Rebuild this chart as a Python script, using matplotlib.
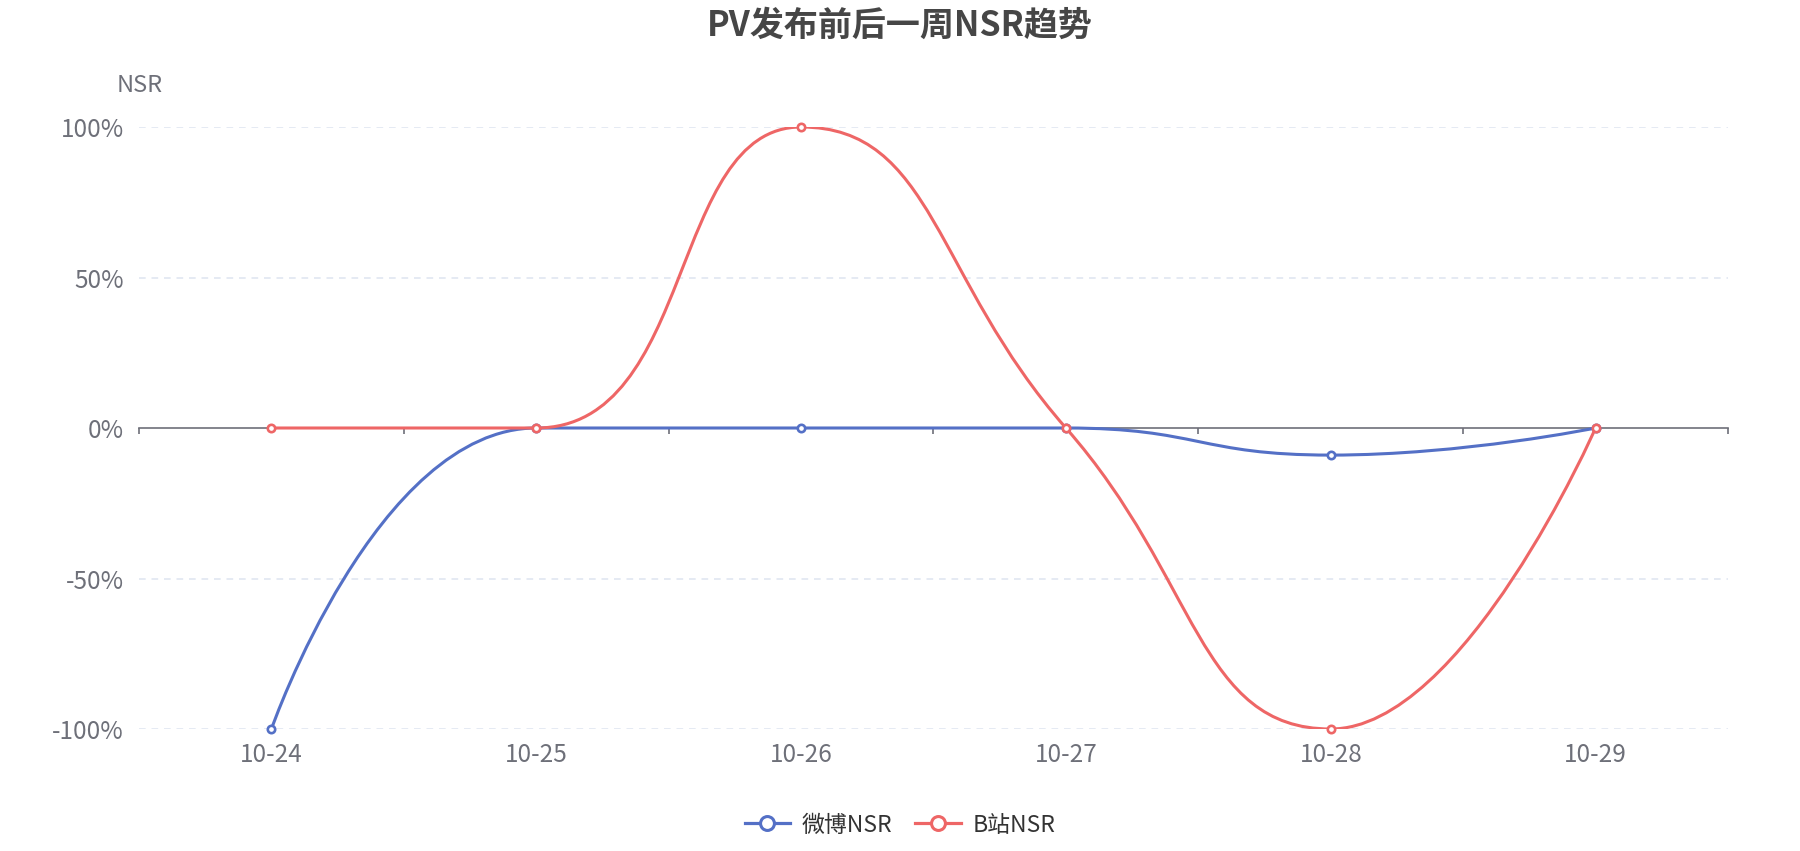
import numpy as np
import matplotlib
matplotlib.use('Agg')
import matplotlib.pyplot as plt
from matplotlib.path import Path
from matplotlib.patches import PathPatch
from matplotlib.lines import Line2D

plt.rcParams['font.family'] = ['Noto Sans CJK SC', 'DejaVu Sans']

dates = ['10-24', '10-25', '10-26', '10-27', '10-28', '10-29']
weibo_nsr = [-100, 0, 0, 0, -9, 0]
bili_nsr = [0, 0, 100, 0, -100, 0]
y_ticks = [-100, -50, 0, 50, 100]
series_names = ['微博NSR', 'B站NSR']
colors = ['#5470c6', '#ee6666']

W, H = 1800, 851
fig = plt.figure(figsize=(W / 100, H / 100), dpi=100)
L, R, T, B = 139, 1728, 127, 729
ax = fig.add_axes([L / W, 1 - B / H, (R - L) / W, (B - T) / H])
ax.set_xlim(-0.5, len(dates) - 0.5)
ax.set_ylim(-100, 100)

# pixel scale for echarts-like smoothing
sx = (R - L) / len(dates)
sy = (B - T) / 200.0


def echarts_smooth(xs, ys, smooth=0.5):
    px = [x * sx for x in xs]
    py = [y * sy for y in ys]
    n = len(px)
    verts = [(px[0], py[0])]
    codes = [Path.MOVETO]
    cpx0, cpy0 = px[0], py[0]
    for i in range(1, n):
        x, y = px[i], py[i]
        prevX, prevY = px[i - 1], py[i - 1]
        if i == n - 1:
            cpx1, cpy1 = x, y
            ncx, ncy = x, y
        else:
            nextX, nextY = px[i + 1], py[i + 1]
            vx = nextX - prevX
            vy = nextY - prevY
            lp = np.hypot(x - prevX, y - prevY)
            ln = np.hypot(nextX - x, nextY - y)
            r = ln / (ln + lp)
            ncx = x + vx * smooth * r
            ncy = y + vy * smooth * r
            ncx = min(ncx, max(nextX, x)); ncy = min(ncy, max(nextY, y))
            ncx = max(ncx, min(nextX, x)); ncy = max(ncy, min(nextY, y))
            vx = ncx - x; vy = ncy - y
            cpx1 = x - vx * lp / ln
            cpy1 = y - vy * lp / ln
            cpx1 = min(cpx1, max(prevX, x)); cpy1 = min(cpy1, max(prevY, y))
            cpx1 = max(cpx1, min(prevX, x)); cpy1 = max(cpy1, min(prevY, y))
            vx = x - cpx1; vy = y - cpy1
            ncx = x + vx * ln / lp
            ncy = y + vy * ln / lp
        verts += [(cpx0, cpy0), (cpx1, cpy1), (x, y)]
        codes += [Path.CURVE4] * 3
        cpx0, cpy0 = ncx, ncy
    v = np.array(verts) / np.array([sx, sy])
    return Path(v, codes)


grid_color = '#E0E6F1'
axis_color = '#6E7079'
for yv in y_ticks:
    if yv != 0:
        ax.axhline(yv, color=grid_color, lw=1.2, dashes=(4, 3.5), zorder=0)

xs = np.arange(len(dates))
for k, (vals, c) in enumerate(zip([weibo_nsr, bili_nsr], colors)):
    path = echarts_smooth(xs, vals)
    ax.add_patch(PathPatch(path, fill=False, edgecolor=c, lw=2.2, zorder=3 + k * 2,
                           capstyle='round', joinstyle='round'))
    ax.plot(xs, vals, linestyle='none', marker='o', markersize=5.3, mfc='white',
            mec=c, mew=1.9, zorder=4 + k * 2, clip_on=False)

# axis line at zero with boundary ticks
for s in ['top', 'right', 'left']:
    ax.spines[s].set_visible(False)
ax.spines['bottom'].set_position(('data', 0))
ax.spines['bottom'].set_color(axis_color)
ax.spines['bottom'].set_linewidth(1.2)
ax.spines['bottom'].set_zorder(2)
ax.set_xticks(np.arange(-0.5, len(dates), 1.0))
ax.tick_params(axis='x', direction='out', length=4, width=1.2, color=axis_color,
               labelbottom=False)

ax.set_yticks(y_ticks)
ax.set_yticklabels([f'{v}%' for v in y_ticks])
ax.tick_params(axis='y', length=0, pad=11, labelsize=17.5, labelcolor=axis_color)

sec = ax.secondary_xaxis('bottom')
sec.set_xticks(xs)
sec.set_xticklabels(dates)
sec.tick_params(length=0, pad=9, labelsize=17.5, labelcolor=axis_color)
sec.spines['bottom'].set_visible(False)

fig.text(900 / W, 1 - 25 / H, 'PV发布前后一周NSR趋势', ha='center', va='center',
         fontsize=24.5, fontweight='bold', color='#464646')
fig.text(140 / W, 1 - 86 / H, 'NSR', ha='center', va='center', fontsize=17,
         color=axis_color)

handles = [Line2D([], [], color=c, lw=2.3, marker='o', markersize=10, mfc='white',
                  mec=c, mew=2.2) for c in colors]
fig.legend(handles, series_names, loc='center', bbox_to_anchor=(900 / W, 1 - 825 / H),
           ncol=2, frameon=False, fontsize=16.5, handlelength=2.0, handletextpad=0.5,
           columnspacing=1.0, labelcolor='#333333')

fig.savefig('out.png', dpi=100)
